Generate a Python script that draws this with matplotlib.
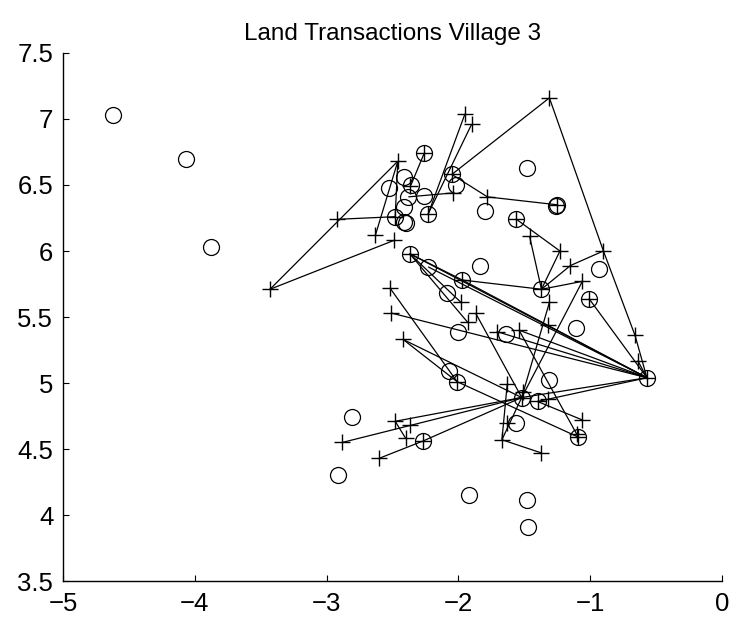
import matplotlib
matplotlib.use("Agg")
import matplotlib.pyplot as plt

# circles (household / plot positions)
circle_x = [-4.62, -4.07, -3.88, -2.41, -2.53, -2.38, -2.26, -2.41, -2.40, -2.41,
            -2.02, -1.80, -1.48, -2.23, -1.84, -2.09, -2.00, -1.64, -2.07, -0.93,
            -1.11, -1.31, -1.56, -2.81, -2.91, -1.92, -1.48, -1.47,
            # circles that also carry a plus
            -2.26, -2.36, -2.48, -2.23, -2.05, -1.25, -1.26, -1.56, -2.37, -1.97,
            -1.37, -1.01, -0.57, -2.01, -1.52, -1.40, -1.09, -2.27]
circle_y = [7.03, 6.70, 6.03, 6.56, 6.48, 6.41, 6.42, 6.33, 6.21, 6.22,
            6.50, 6.30, 6.63, 5.88, 5.89, 5.68, 5.39, 5.37, 5.09, 5.86,
            5.42, 5.02, 4.70, 4.74, 4.30, 4.15, 4.11, 3.91,
            6.74, 6.50, 6.26, 6.28, 6.58, 6.35, 6.34, 6.24, 5.98, 5.78,
            5.71, 5.64, 5.04, 5.01, 4.89, 4.86, 4.59, 4.56]

# pluses
plus_x = [-2.26, -2.37, -2.48, -2.23, -2.05, -1.25, -1.56, -2.37, -1.97, -1.37,
          -1.01, -0.57, -2.01, -1.52, -1.51, -1.40, -1.09, -1.10, -2.27,
          -1.95, -1.90, -1.31, -2.46, -2.04, -1.78, -2.92, -2.63, -2.49, -3.43,
          -1.46, -1.23, -0.90, -1.15, -1.06, -1.31, -1.32, -0.66, -0.64, -2.52,
          -1.98, -1.87, -2.51, -1.93, -1.71, -1.54, -2.42, -1.63, -1.32, -1.06,
          -1.63, -1.67, -1.37, -2.48, -2.37, -2.40, -2.88, -2.60]
plus_y = [6.74, 6.49, 6.26, 6.28, 6.58, 6.35, 6.24, 5.98, 5.78, 5.71,
          5.64, 5.04, 5.01, 4.89, 4.93, 4.86, 4.59, 4.61, 4.56,
          7.04, 6.96, 7.16, 6.68, 6.44, 6.41, 6.24, 6.12, 6.08, 5.71,
          6.11, 6.00, 6.00, 5.89, 5.77, 5.61, 5.44, 5.36, 5.17, 5.72,
          5.61, 5.53, 5.53, 5.46, 5.39, 5.40, 5.33, 4.99, 4.88, 4.72,
          4.70, 4.57, 4.47, 4.71, 4.68, 4.58, 4.55, 4.43]

# transaction links: start -> end
link_x0 = [-3.43, -3.43, -2.46, -2.46, -2.92, -2.26, -1.95, -1.90, -2.05, -2.05,
           -1.78, -1.31, -0.90, -0.66, -0.64, -0.90, -1.15, -1.23, -1.56, -1.46,
           -1.37, -1.01, -2.37, -1.97, -2.37, -2.23, -1.97, -2.51, -1.71, -1.54,
           -1.52, -1.40, -2.52, -2.42, -2.42, -2.37, -2.37, -1.87, -1.06, -1.31,
           -2.01, -1.40, -1.67, -1.67, -1.67, -2.48, -2.88, -2.48, -2.60, -2.27,
           -1.54, -2.38]
link_y0 = [5.71, 5.71, 6.68, 6.68, 6.24, 6.74, 7.04, 6.96, 6.58, 6.58,
           6.41, 7.16, 6.00, 5.36, 5.17, 6.00, 5.89, 6.00, 6.24, 6.11,
           5.71, 5.64, 5.98, 5.78, 5.98, 5.88, 5.78, 5.53, 5.39, 5.40,
           4.89, 4.86, 5.72, 5.33, 5.33, 5.98, 5.98, 5.53, 5.77, 5.61,
           5.01, 4.86, 4.57, 4.57, 4.57, 4.71, 4.55, 4.71, 4.43, 4.56,
           5.40, 6.41]
link_x1 = [-2.46, -2.49, -2.63, -2.48, -2.48, -2.36, -2.23, -2.23, -1.31, -1.78,
           -1.25, -0.90, -0.66, -0.57, -0.57, -1.15, -1.37, -1.37, -1.23, -1.37,
           -1.06, -0.57, -1.97, -1.37, -0.57, -0.57, -0.57, -0.57, -0.57, -0.57,
           -0.57, -0.57, -2.01, -2.01, -1.52, -1.93, -1.98, -1.52, -1.52, -1.52,
           -1.09, -1.06, -1.63, -1.52, -1.37, -1.52, -1.52, -2.40, -2.27, -1.52,
           -1.09, -2.04]
link_y1 = [6.68, 6.08, 6.12, 6.26, 6.26, 6.50, 6.28, 6.28, 7.16, 6.41,
           6.35, 6.00, 5.36, 5.04, 5.04, 5.89, 5.71, 5.71, 6.00, 5.71,
           5.77, 5.04, 5.78, 5.71, 5.04, 5.04, 5.04, 5.04, 5.04, 5.04,
           5.04, 5.04, 5.01, 5.01, 4.89, 5.46, 5.61, 4.89, 4.89, 4.89,
           4.59, 4.72, 4.99, 4.89, 4.47, 4.89, 4.89, 4.58, 4.56, 4.89,
           4.59, 6.44]

plt.rcParams['font.family'] = ['Liberation Sans', 'DejaVu Sans']

fig = plt.figure(figsize=(7.44, 6.22), dpi=100)
ax = fig.add_axes([0.0847, 0.0659, 0.8858, 0.8489])

for x0, y0, x1, y1 in zip(link_x0, link_y0, link_x1, link_y1):
    ax.plot([x0, x1], [y0, y1], color='k', lw=0.9, solid_capstyle='butt')

ax.plot(circle_x, circle_y, 'o', ls='none', ms=11.5, mfc='none', mec='k', mew=0.9)
ax.plot(plus_x, plus_y, '+', ls='none', ms=12, mec='k', mew=1.0)

ax.set_xlim(-5, 0)
ax.set_ylim(3.5, 7.5)
ax.set_xticks([-5, -4, -3, -2, -1, 0])
ax.set_yticks([3.5, 4, 4.5, 5, 5.5, 6, 6.5, 7, 7.5])
ax.set_yticklabels(['3.5', '4', '4.5', '5', '5.5', '6', '6.5', '7', '7.5'])
ax.spines['top'].set_visible(False)
ax.spines['right'].set_visible(False)
for s in ('left', 'bottom'):
    ax.spines[s].set_linewidth(1.0)
ax.tick_params(direction='in', length=4, width=0.8, labelsize=18.5)
ax.tick_params(axis='x', pad=8)
ax.tick_params(axis='y', pad=7)
ax.set_title("Land Transactions Village 3", fontsize=17.5, pad=9)

fig.savefig("out.png", dpi=100)
